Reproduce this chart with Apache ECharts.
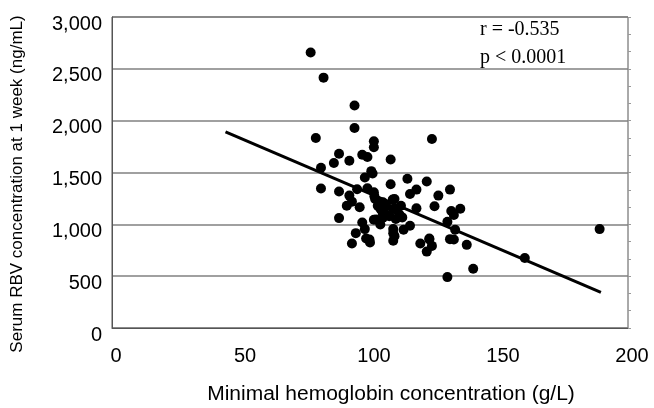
<!DOCTYPE html>
<html>
<head>
<meta charset="utf-8">
<script src="https://cdn.jsdelivr.net/npm/echarts@6/dist/echarts.min.js"></script>
<style>
  html, body { margin: 0; padding: 0; background: #fff; }
  #main { width: 654px; height: 408px; }
</style>
</head>
<body>
<div id="main"></div>
<script>
// 数据：最低血红蛋白 (g/L) 与 1 周血清 RBV 浓度 (ng/mL)
var hemoglobin = [77, 82, 94, 94, 79, 124, 101.5, 101.5, 88, 97, 99, 86, 92, 108, 81, 100.5, 98, 101, 81, 88,
  92, 108, 114.5, 122, 118, 131, 126.5, 115.5, 95, 99, 101.5, 91, 93, 96, 102, 103, 105, 109.5, 112, 109,
  125, 118, 131.5, 135, 132.5, 88, 101.5, 105, 104, 97, 110, 112.5, 130, 115.5, 113, 109, 109, 98, 94.5, 98.5,
  100, 93, 109, 133, 132.5, 123, 119.5, 124, 122, 137.5, 131, 160, 140, 130, 189,
  101.7, 103.7, 106.3, 108.8, 110.1, 104.9, 111.4, 107.5, 102.4, 109.5, 99.8, 123, 104, 106]
var rbv = [2658, 2415, 2147, 1930, 1833, 1823, 1801, 1743, 1681, 1671, 1649, 1591, 1613, 1626, 1545, 1513, 1452, 1490, 1345, 1316,
  1277, 1387, 1439, 1413, 1335, 1335, 1277, 1293, 1338, 1348, 1309, 1180, 1219, 1164, 1245, 1180, 1212, 1245, 1180, 1148,
  1174, 1154, 1128, 1151, 1090, 1060, 1044, 1064, 999, 1018, 1051, 1067, 1025, 986, 947, 954, 915, 954, 915, 863,
  824, 815, 841, 947, 854, 863, 815, 792, 737, 802, 857, 676, 572, 491, 954,
  1272, 1208, 1176, 1240, 1144, 1112, 1095, 1079, 1047, 886, 854, 854, 1150, 1100]

// 回归直线两端
var fitX = [44, 189.5]
var fitY = [1891, 344]

var xTicks = [0, 50, 100, 150, 200]
var yTicks = [0, 500, 1000, 1500, 2000, 2500, 3000]

var points = hemoglobin.map(function (h, i) { return [h, rbv[i]] })
var fitLine = fitX.map(function (x, i) { return [x, fitY[i]] })

var font = '"Liberation Sans", Arial, sans-serif'
var serif = '"Liberation Serif", "Times New Roman", serif'
var chart = echarts.init(document.getElementById('main'))

chart.setOption({
  animation: false,
  grid: { left: 112, right: 26, top: 17, bottom: 80, show: true, borderColor: '#555', borderWidth: 1 },
  xAxis: {
    type: 'value',
    min: xTicks[0],
    max: xTicks[xTicks.length - 1],
    interval: 50,
    axisLine: { lineStyle: { color: '#555' } },
    axisTick: { show: false },
    splitLine: { show: false },
    axisLabel: { color: '#000', fontFamily: font, fontSize: 20, margin: 18, padding: [0, 0, 0, 8] }
  },
  yAxis: [{
    type: 'value',
    min: yTicks[0],
    max: yTicks[yTicks.length - 1],
    interval: 500,
    axisLine: { show: true, lineStyle: { color: '#555' } },
    axisTick: { show: false },
    splitLine: { lineStyle: { color: '#808080', width: 1.5 } },
    axisLabel: {
      color: '#000', fontFamily: font, fontSize: 20, margin: 10,
      verticalAlign: 'top', lineHeight: 14,
      formatter: function (v) { return v.toLocaleString('en-US') }
    }
  }, {
    // 右侧小刻度
    type: 'value',
    position: 'right',
    min: 0,
    max: 3000,
    interval: 500,
    axisLine: { show: false },
    axisTick: { show: true, length: 3, lineStyle: { color: '#999' } },
    minorTick: { show: true, splitNumber: 3, length: 3, lineStyle: { color: '#999' } },
    axisLabel: { show: false },
    splitLine: { show: false }
  }],
  series: [{
    type: 'scatter',
    data: points,
    symbolSize: 10,
    itemStyle: { color: '#000', opacity: 1 }
  }, {
    type: 'line',
    data: fitLine,
    symbol: 'none',
    lineStyle: { color: '#000', width: 3 }
  }],
  graphic: [{
    type: 'text',
    x: 480,
    y: 30,
    style: { text: 'r = -0.535', font: '20px ' + serif, fill: '#000', verticalAlign: 'middle' }
  }, {
    type: 'text',
    x: 480,
    y: 58,
    style: { text: 'p < 0.0001', font: '20px ' + serif, fill: '#000', verticalAlign: 'middle' }
  }, {
    type: 'text',
    x: 391,
    y: 394,
    scaleX: 1.05,
    style: { text: 'Minimal hemoglobin concentration (g/L)', font: '20px ' + font, fill: '#000', align: 'center', verticalAlign: 'middle' }
  }, {
    type: 'text',
    x: 17,
    y: 184,
    rotation: Math.PI / 2,
    style: { text: 'Serum RBV concentration at 1 week (ng/mL)', font: '17px ' + font, fill: '#000', align: 'center', verticalAlign: 'middle' }
  }]
})
</script>
</body>
</html>
